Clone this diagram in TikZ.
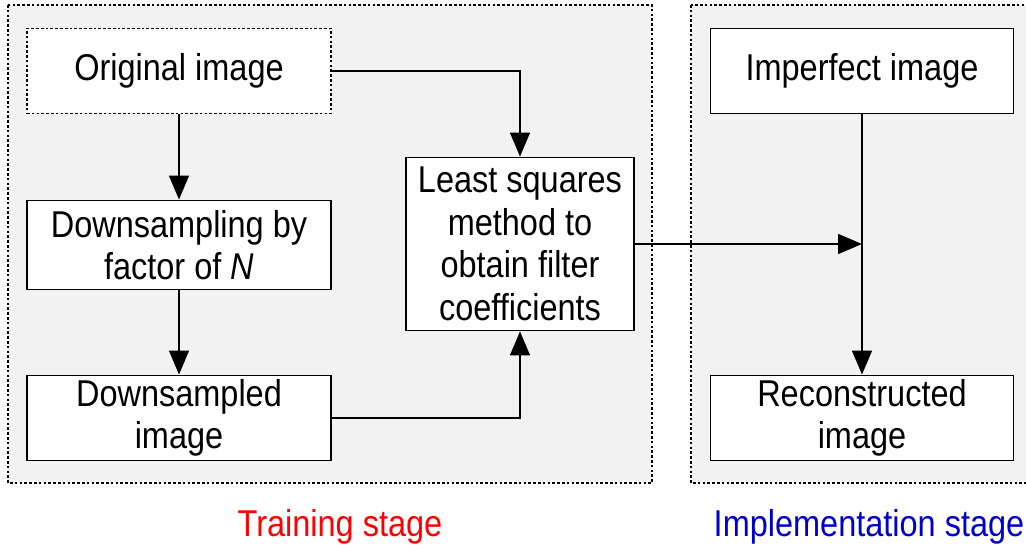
\documentclass[tikz,border=0pt]{standalone}
\usepackage{fontspec}
\setmainfont[FakeStretch=0.87]{Liberation Sans}
\usetikzlibrary{arrows.meta}

\definecolor{stagegray}{RGB}{242,242,242}
\definecolor{implblue}{RGB}{0,0,205}

\tikzset{every picture/.style={line width=1.2pt}}
\tikzset{
	stagebox/.style={draw, dash pattern=on 2pt off 1.6pt, fill=stagegray},
	blockbox/.style={draw, fill=white, inner sep=0pt, align=center, font=\fontsize{28}{32}\selectfont},
	flow/.style={-{Triangle[length=18pt,width=15pt]}}
}

\begin{document}
\begin{tikzpicture}[x=0.75pt,y=0.75pt,yscale=-1,xscale=1]
	\useasboundingbox (0,0) rectangle (1026,549);

	% stage areas
	\draw [stagebox] (8,5) rectangle (652,483);
	\draw [stagebox] (691,5) rectangle (1030,483);

	% Training stage blocks
	\node [blockbox, dash pattern=on 2pt off 1.6pt, minimum width=228pt, minimum height=64pt] (orig) at (179,71) {Original image};
	\node [blockbox, minimum width=228pt, minimum height=67pt] (down) at (179,245) {Downsampling by\\factor of \textit{N}};
	\node [blockbox, minimum width=228pt, minimum height=64pt] (dsimg) at (179,418) {Downsampled\\image};
	\node [blockbox, minimum width=171pt, minimum height=130pt] (lsq) at (520,244) {Least squares\\method to\\obtain filter\\coefficients};

	% Implementation stage blocks
	\node [blockbox, minimum width=227pt, minimum height=64pt] (imp) at (862,71) {Imperfect image};
	\node [blockbox, minimum width=227pt, minimum height=64pt] (rec) at (862,418) {Reconstructed\\image};

	% connectors
	\draw [flow] (orig) -- (down);
	\draw [flow] (down) -- (dsimg);
	\draw [flow] (orig.east) -| (lsq.north);
	\draw [flow] (dsimg.east) -| (lsq.south);
	\draw [flow] (imp) -- (rec);
	\coordinate (join) at (lsq.east -| imp.south);
	\draw [flow] (lsq.east) -- (join);

	% stage labels
	\node [text=red, font=\fontsize{28}{32}\selectfont] (trainlbl) at (340,527) {Training stage};
	\node [text=implblue, font=\fontsize{28}{32}\selectfont] (impllbl) at (869,527) {Implementation stage};

\end{tikzpicture}
\end{document}
